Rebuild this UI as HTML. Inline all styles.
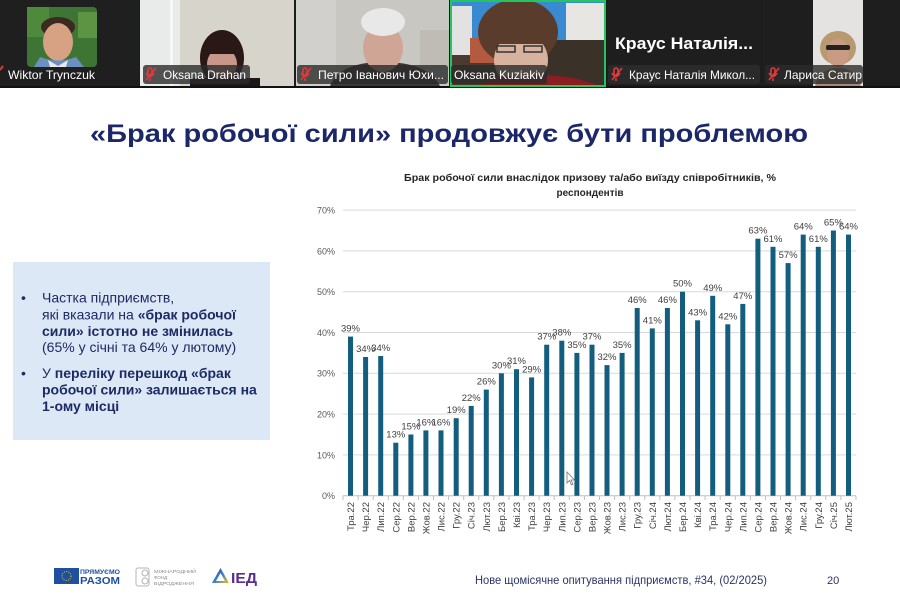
<!DOCTYPE html>
<html>
<head>
<meta charset="utf-8">
<style>
html,body{margin:0;padding:0;background:#fff;}
svg{display:block;}
text{font-family:"Liberation Sans","DejaVu Sans",sans-serif;}
</style>
</head>
<body>
<svg width="900" height="600" viewBox="0 0 900 600" xmlns="http://www.w3.org/2000/svg">
<defs>
<linearGradient id="tri" x1="0" y1="0" x2="1" y2="1">
<stop offset="0" stop-color="#5a2d91"/>
<stop offset="0.5" stop-color="#2f7fd0"/>
<stop offset="1" stop-color="#f2c318"/>
</linearGradient>
</defs>
<rect x="0" y="0" width="900" height="600" fill="#ffffff"/>

<!-- ===== Top video strip ===== -->
<rect x="0" y="0" width="900" height="88" fill="#1b1b1b"/>
<rect x="0" y="86" width="900" height="2" fill="#111"/>

<!-- Tile 1 -->
<rect x="0" y="0" width="139" height="86" fill="#1f1f1f"/>
<rect x="27" y="7" width="70" height="60" rx="4" fill="#3e7534"/>
<rect x="27" y="7" width="22" height="30" fill="#4f8a3c"/>
<rect x="78" y="12" width="19" height="26" fill="#5c9444"/>
<ellipse cx="58" cy="27" rx="17" ry="10" fill="#3b2a20"/>
<ellipse cx="58" cy="42" rx="15" ry="19" fill="#d7a284"/>
<path d="M34 67 L40 57 Q58 64 76 57 L84 67 Z" fill="#6b8fbf"/>
<path d="M48 60 L58 66 L68 60 L66 67 L50 67 Z" fill="#e8e8ee"/>

<!-- Tile 2 -->
<rect x="140" y="0" width="154" height="86" fill="#d7d5cb"/>
<rect x="140" y="0" width="40" height="86" fill="#e8ebe9"/>
<rect x="170" y="0" width="3" height="86" fill="#f6f7f6"/>
<ellipse cx="222" cy="58" rx="22" ry="28" fill="#2a1816"/>
<ellipse cx="222" cy="64" rx="15" ry="16" fill="#c9978a"/>
<rect x="206" y="44" width="32" height="10" fill="#2a1816"/>
<rect x="190" y="78" width="70" height="8" fill="#1e1618"/>

<!-- Tile 3 -->
<rect x="296" y="0" width="153" height="86" fill="#c9c7c2"/>
<rect x="296" y="0" width="40" height="86" fill="#d2d0cc"/>
<rect x="420" y="30" width="29" height="40" fill="#bfbcb6"/>
<path d="M330 86 Q340 62 383 62 Q428 62 440 86 Z" fill="#3d3838"/>
<ellipse cx="383" cy="48" rx="20" ry="24" fill="#cfa596"/>
<ellipse cx="383" cy="22" rx="22" ry="14" fill="#e8e8e8"/>

<!-- Tile 4 -->
<rect x="450" y="0" width="156" height="86" fill="#3a8ad2"/>
<rect x="452" y="6" width="20" height="60" fill="#e2e2e2"/>
<rect x="566" y="3" width="38" height="56" fill="#e8e6e2"/>
<rect x="452" y="55" width="152" height="31" fill="#4a3a30"/>
<rect x="545" y="40" width="59" height="46" fill="#3a3128"/>
<rect x="470" y="38" width="30" height="25" fill="#b35a40"/>
<ellipse cx="518" cy="32" rx="40" ry="33" fill="#5a3c2c"/>
<ellipse cx="521" cy="60" rx="27" ry="27" fill="#d7b29e"/>
<rect x="492" y="22" width="58" height="22" fill="#5a3c2c"/>
<rect x="497" y="46" width="18" height="6" fill="none" stroke="#333" stroke-width="1.5"/>
<rect x="524" y="46" width="18" height="6" fill="none" stroke="#333" stroke-width="1.5"/>
<path d="M480 86 Q500 72 520 78 Q560 70 600 86 Z" fill="#8a1c22"/>
<rect x="451" y="1" width="154" height="85" fill="none" stroke="#22c55e" stroke-width="2"/>

<!-- Tile 5 -->
<rect x="607" y="0" width="154" height="86" fill="#1e1e1e"/>
<text x="615" y="49" font-size="17" font-weight="bold" fill="#ffffff" textLength="138" lengthAdjust="spacingAndGlyphs">Краус  Наталія...</text>

<!-- Tile 6 -->
<rect x="762" y="0" width="138" height="86" fill="#1e1e1e"/>
<rect x="813" y="0" width="50" height="86" fill="#e5e3e1"/>
<ellipse cx="838" cy="48" rx="18" ry="17" fill="#b9996f"/>
<ellipse cx="838" cy="53" rx="11" ry="14" fill="#c89b82"/>
<rect x="826" y="45" width="24" height="5" rx="2" fill="#222"/>
<path d="M815 86 Q820 68 838 68 Q856 68 861 86 Z" fill="#a48a7a"/>

<!-- Name labels -->
<path d="M0 70 L3 66" stroke="#e03a3a" stroke-width="2"/>
<text x="8" y="79" font-size="12" fill="#ffffff" textLength="87" lengthAdjust="spacingAndGlyphs">Wiktor Trynczuk</text>

<rect x="143" y="65" width="107" height="19" rx="3" fill="#2b2b2b" fill-opacity="0.8"/>
<g stroke="#e03a3a" stroke-width="1.6" fill="none"><rect x="148" y="68" width="4" height="8" rx="2"/><path d="M146 73 Q150 80 154 73 M150 78 V81 M146 80 L156 68"/></g>
<text x="163" y="79" font-size="12" fill="#ffffff" textLength="83" lengthAdjust="spacingAndGlyphs">Oksana Drahan</text>

<rect x="297" y="65" width="151" height="19" rx="3" fill="#2b2b2b" fill-opacity="0.8"/>
<g stroke="#e03a3a" stroke-width="1.6" fill="none"><rect x="303" y="68" width="4" height="8" rx="2"/><path d="M301 73 Q305 80 309 73 M305 78 V81 M301 80 L311 68"/></g>
<text x="318" y="79" font-size="12" fill="#ffffff" textLength="126" lengthAdjust="spacingAndGlyphs">Петро Іванович Юхи...</text>

<rect x="451" y="65" width="96" height="19" rx="3" fill="#2b2b2b" fill-opacity="0.8"/>
<text x="454" y="79" font-size="12" fill="#ffffff" textLength="90" lengthAdjust="spacingAndGlyphs">Oksana Kuziakiv</text>

<rect x="608" y="65" width="152" height="19" rx="3" fill="#2b2b2b" fill-opacity="0.9"/>
<g stroke="#e03a3a" stroke-width="1.6" fill="none"><rect x="614" y="68" width="4" height="8" rx="2"/><path d="M612 73 Q616 80 620 73 M616 78 V81 M612 80 L622 68"/></g>
<text x="629" y="79" font-size="12" fill="#ffffff" textLength="126" lengthAdjust="spacingAndGlyphs">Краус Наталія Микол...</text>

<rect x="765" y="65" width="98" height="19" rx="3" fill="#2b2b2b" fill-opacity="0.8"/>
<g stroke="#e03a3a" stroke-width="1.6" fill="none"><rect x="771" y="68" width="4" height="8" rx="2"/><path d="M769 73 Q773 80 777 73 M773 78 V81 M769 80 L779 68"/></g>
<text x="784" y="79" font-size="12" fill="#ffffff" textLength="78" lengthAdjust="spacingAndGlyphs">Лариса Сатир</text>

<!-- ===== Slide title ===== -->
<text x="90" y="142" font-size="25" font-weight="bold" fill="#1b2768" textLength="718" lengthAdjust="spacingAndGlyphs">«Брак робочої сили» продовжує бути проблемою</text>

<!-- ===== Left box ===== -->
<rect x="13" y="262" width="257" height="178" fill="#dce8f6"/>
<g font-size="14" fill="#1e2a63">
<text x="21" y="302.5">•</text>
<text x="42" y="302.5">Частка підприємств,</text>
<text x="42" y="319.5">які вказали на <tspan font-weight="bold">«брак робочої</tspan></text>
<text x="42" y="336" font-weight="bold">сили» істотно не змінилась</text>
<text x="42" y="352">(65% у січні та 64% у лютому)</text>
<text x="21" y="378">•</text>
<text x="42" y="378">У <tspan font-weight="bold">переліку перешкод «брак</tspan></text>
<text x="42" y="394.5" font-weight="bold">робочої сили» залишається на</text>
<text x="42" y="411" font-weight="bold">1-ому місці</text>
</g>

<!-- ===== Chart ===== -->
<text x="590" y="181" font-size="10" font-weight="bold" fill="#262626" text-anchor="middle" textLength="372" lengthAdjust="spacingAndGlyphs">Брак робочої сили внаслідок призову та/або виїзду співробітників, %</text>
<text x="590" y="196" font-size="10" font-weight="bold" fill="#262626" text-anchor="middle">респондентів</text>

<!-- gridlines -->
<g stroke="#d9d9d9" stroke-width="1">
<line x1="343" y1="210.1" x2="856" y2="210.1"/>
<line x1="343" y1="250.9" x2="856" y2="250.9"/>
<line x1="343" y1="291.7" x2="856" y2="291.7"/>
<line x1="343" y1="332.5" x2="856" y2="332.5"/>
<line x1="343" y1="373.3" x2="856" y2="373.3"/>
<line x1="343" y1="414.1" x2="856" y2="414.1"/>
<line x1="343" y1="454.9" x2="856" y2="454.9"/>
</g>
<line x1="343" y1="495.7" x2="856" y2="495.7" stroke="#bfbfbf" stroke-width="1"/>

<!-- y labels -->
<g font-size="9" fill="#595959" text-anchor="end">
<text x="335" y="213.5">70%</text>
<text x="335" y="254.3">60%</text>
<text x="335" y="295.1">50%</text>
<text x="335" y="335.9">40%</text>
<text x="335" y="376.7">30%</text>
<text x="335" y="417.5">20%</text>
<text x="335" y="458.3">10%</text>
<text x="335" y="499.1">0%</text>
</g>

<!-- ticks -->
<g stroke="#bfbfbf" stroke-width="1">
<line x1="343.0" y1="495.7" x2="343.0" y2="500"/><line x1="358.1" y1="495.7" x2="358.1" y2="500"/><line x1="373.2" y1="495.7" x2="373.2" y2="500"/><line x1="388.3" y1="495.7" x2="388.3" y2="500"/><line x1="403.4" y1="495.7" x2="403.4" y2="500"/><line x1="418.4" y1="495.7" x2="418.4" y2="500"/><line x1="433.5" y1="495.7" x2="433.5" y2="500"/><line x1="448.6" y1="495.7" x2="448.6" y2="500"/><line x1="463.7" y1="495.7" x2="463.7" y2="500"/><line x1="478.8" y1="495.7" x2="478.8" y2="500"/><line x1="493.9" y1="495.7" x2="493.9" y2="500"/><line x1="509.0" y1="495.7" x2="509.0" y2="500"/><line x1="524.1" y1="495.7" x2="524.1" y2="500"/><line x1="539.1" y1="495.7" x2="539.1" y2="500"/><line x1="554.2" y1="495.7" x2="554.2" y2="500"/><line x1="569.3" y1="495.7" x2="569.3" y2="500"/><line x1="584.4" y1="495.7" x2="584.4" y2="500"/><line x1="599.5" y1="495.7" x2="599.5" y2="500"/><line x1="614.6" y1="495.7" x2="614.6" y2="500"/><line x1="629.7" y1="495.7" x2="629.7" y2="500"/><line x1="644.8" y1="495.7" x2="644.8" y2="500"/><line x1="659.8" y1="495.7" x2="659.8" y2="500"/><line x1="674.9" y1="495.7" x2="674.9" y2="500"/><line x1="690.0" y1="495.7" x2="690.0" y2="500"/><line x1="705.1" y1="495.7" x2="705.1" y2="500"/><line x1="720.2" y1="495.7" x2="720.2" y2="500"/><line x1="735.3" y1="495.7" x2="735.3" y2="500"/><line x1="750.4" y1="495.7" x2="750.4" y2="500"/><line x1="765.5" y1="495.7" x2="765.5" y2="500"/><line x1="780.5" y1="495.7" x2="780.5" y2="500"/><line x1="795.6" y1="495.7" x2="795.6" y2="500"/><line x1="810.7" y1="495.7" x2="810.7" y2="500"/><line x1="825.8" y1="495.7" x2="825.8" y2="500"/><line x1="840.9" y1="495.7" x2="840.9" y2="500"/><line x1="856.0" y1="495.7" x2="856.0" y2="500"/>
</g>

<!-- bars -->
<g fill="#135e7e">
<rect x="348.0" y="336.6" width="5" height="159.1"/>
<rect x="363.1" y="357.0" width="5" height="138.7"/>
<rect x="378.2" y="356.0" width="5" height="139.7"/>
<rect x="393.3" y="442.7" width="5" height="53.0"/>
<rect x="408.4" y="434.5" width="5" height="61.2"/>
<rect x="423.4" y="430.4" width="5" height="65.3"/>
<rect x="438.5" y="430.4" width="5" height="65.3"/>
<rect x="453.7" y="418.2" width="5" height="77.5"/>
<rect x="468.7" y="405.9" width="5" height="89.8"/>
<rect x="483.8" y="389.6" width="5" height="106.1"/>
<rect x="498.9" y="373.3" width="5" height="122.4"/>
<rect x="514.0" y="369.2" width="5" height="126.5"/>
<rect x="529.1" y="377.4" width="5" height="118.3"/>
<rect x="544.2" y="344.7" width="5" height="151.0"/>
<rect x="559.3" y="340.7" width="5" height="155.0"/>
<rect x="574.4" y="352.9" width="5" height="142.8"/>
<rect x="589.5" y="344.7" width="5" height="151.0"/>
<rect x="604.5" y="365.1" width="5" height="130.6"/>
<rect x="619.6" y="352.9" width="5" height="142.8"/>
<rect x="634.7" y="308.0" width="5" height="187.7"/>
<rect x="649.8" y="328.4" width="5" height="167.3"/>
<rect x="664.9" y="308.0" width="5" height="187.7"/>
<rect x="680.0" y="291.7" width="5" height="204.0"/>
<rect x="695.1" y="320.3" width="5" height="175.4"/>
<rect x="710.2" y="295.8" width="5" height="199.9"/>
<rect x="725.3" y="324.3" width="5" height="171.4"/>
<rect x="740.3" y="303.9" width="5" height="191.8"/>
<rect x="755.4" y="238.7" width="5" height="257.0"/>
<rect x="770.5" y="246.8" width="5" height="248.9"/>
<rect x="785.6" y="263.1" width="5" height="232.6"/>
<rect x="800.7" y="234.6" width="5" height="261.1"/>
<rect x="815.8" y="246.8" width="5" height="248.9"/>
<rect x="830.9" y="230.5" width="5" height="265.2"/>
<rect x="846.0" y="234.6" width="5" height="261.1"/>
</g>

<!-- data labels -->
<g font-size="9.5" fill="#404040" text-anchor="middle">
<text x="350.5" y="331.6">39%</text>
<text x="365.6" y="352.0">34%</text>
<text x="380.7" y="351.0">34%</text>
<text x="395.8" y="437.7">13%</text>
<text x="410.9" y="429.5">15%</text>
<text x="425.9" y="425.4">16%</text>
<text x="441.0" y="425.4">16%</text>
<text x="456.2" y="413.2">19%</text>
<text x="471.2" y="400.9">22%</text>
<text x="486.3" y="384.6">26%</text>
<text x="501.4" y="368.3">30%</text>
<text x="516.5" y="364.2">31%</text>
<text x="531.6" y="372.4">29%</text>
<text x="546.7" y="339.7">37%</text>
<text x="561.8" y="335.7">38%</text>
<text x="576.9" y="347.9">35%</text>
<text x="592.0" y="339.7">37%</text>
<text x="607.0" y="360.1">32%</text>
<text x="622.1" y="347.9">35%</text>
<text x="637.2" y="303.0">46%</text>
<text x="652.3" y="323.4">41%</text>
<text x="667.4" y="303.0">46%</text>
<text x="682.5" y="286.7">50%</text>
<text x="697.6" y="315.3">43%</text>
<text x="712.7" y="290.8">49%</text>
<text x="727.8" y="319.3">42%</text>
<text x="742.8" y="298.9">47%</text>
<text x="757.9" y="233.7">63%</text>
<text x="773.0" y="241.8">61%</text>
<text x="788.1" y="258.1">57%</text>
<text x="803.2" y="229.6">64%</text>
<text x="818.3" y="241.8">61%</text>
<text x="833.4" y="225.5">65%</text>
<text x="848.5" y="229.6">64%</text>
</g>

<!-- x labels -->
<g font-size="9.5" fill="#404040" text-anchor="end">
<text transform="translate(354.0,502) rotate(-90)">Тра.22</text>
<text transform="translate(369.1,502) rotate(-90)">Чер.22</text>
<text transform="translate(384.2,502) rotate(-90)">Лип.22</text>
<text transform="translate(399.3,502) rotate(-90)">Сер.22</text>
<text transform="translate(414.4,502) rotate(-90)">Вер.22</text>
<text transform="translate(429.4,502) rotate(-90)">Жов.22</text>
<text transform="translate(444.5,502) rotate(-90)">Лис.22</text>
<text transform="translate(459.7,502) rotate(-90)">Гру.22</text>
<text transform="translate(474.7,502) rotate(-90)">Січ.23</text>
<text transform="translate(489.8,502) rotate(-90)">Лют.23</text>
<text transform="translate(504.9,502) rotate(-90)">Бер.23</text>
<text transform="translate(520.0,502) rotate(-90)">Кві.23</text>
<text transform="translate(535.1,502) rotate(-90)">Тра.23</text>
<text transform="translate(550.2,502) rotate(-90)">Чер.23</text>
<text transform="translate(565.3,502) rotate(-90)">Лип.23</text>
<text transform="translate(580.4,502) rotate(-90)">Сер.23</text>
<text transform="translate(595.5,502) rotate(-90)">Вер.23</text>
<text transform="translate(610.5,502) rotate(-90)">Жов.23</text>
<text transform="translate(625.6,502) rotate(-90)">Лис.23</text>
<text transform="translate(640.7,502) rotate(-90)">Гру.23</text>
<text transform="translate(655.8,502) rotate(-90)">Січ.24</text>
<text transform="translate(670.9,502) rotate(-90)">Лют.24</text>
<text transform="translate(686.0,502) rotate(-90)">Бер.24</text>
<text transform="translate(701.1,502) rotate(-90)">Кві.24</text>
<text transform="translate(716.2,502) rotate(-90)">Тра.24</text>
<text transform="translate(731.3,502) rotate(-90)">Чер.24</text>
<text transform="translate(746.3,502) rotate(-90)">Лип.24</text>
<text transform="translate(761.4,502) rotate(-90)">Сер.24</text>
<text transform="translate(776.5,502) rotate(-90)">Вер.24</text>
<text transform="translate(791.6,502) rotate(-90)">Жов.24</text>
<text transform="translate(806.7,502) rotate(-90)">Лис.24</text>
<text transform="translate(821.8,502) rotate(-90)">Гру.24</text>
<text transform="translate(836.9,502) rotate(-90)">Січ.25</text>
<text transform="translate(852.0,502) rotate(-90)">Лют.25</text>
</g>

<!-- mouse cursor -->
<path d="M567 472 L567 483 L569.5 480.5 L571.5 485 L573 484.3 L571 480 L574.5 480 Z" fill="#ffffff" stroke="#777" stroke-width="0.8"/>

<!-- ===== Footer ===== -->
<rect x="54" y="568" width="25" height="16" fill="#1f4fa0"/>
<circle cx="66.5" cy="576" r="4.5" fill="none" stroke="#f2d000" stroke-width="1" stroke-dasharray="1 1.3"/>
<text x="80" y="574" font-size="6.5" font-weight="bold" fill="#1f4fa0" textLength="40" lengthAdjust="spacingAndGlyphs">ПРЯМУЄМО</text>
<text x="80" y="584" font-size="10" font-weight="bold" fill="#1f4fa0" textLength="40" lengthAdjust="spacingAndGlyphs">РАЗОМ</text>

<rect x="136" y="568" width="13" height="18" rx="2" fill="none" stroke="#b5b5b5" stroke-width="1"/>
<circle cx="145" cy="573" r="3" fill="none" stroke="#b5b5b5" stroke-width="1"/>
<circle cx="145" cy="581" r="3" fill="none" stroke="#b5b5b5" stroke-width="1"/>
<g font-size="4.5" fill="#8a8a8a">
<text x="154" y="573" textLength="42" lengthAdjust="spacingAndGlyphs">МІЖНАРОДНИЙ</text>
<text x="154" y="579">ФОНД</text>
<text x="154" y="585" textLength="40" lengthAdjust="spacingAndGlyphs">ВІДРОДЖЕННЯ</text>
</g>

<path d="M220.5 568 L229 583 L212 583 Z" fill="url(#tri)"/>
<path d="M220.5 573 L225 581 L216 581 Z" fill="#ffffff"/>
<text x="231" y="583" font-size="15" font-weight="bold" fill="#5a2d91" textLength="26" lengthAdjust="spacingAndGlyphs">ІЕД</text>

<text x="475" y="584" font-size="12" fill="#2b3466" textLength="292" lengthAdjust="spacingAndGlyphs">Нове щомісячне опитування підприємств, #34, (02/2025)</text>
<text x="827" y="584" font-size="11" fill="#2b3466">20</text>
</svg>
</body>
</html>
